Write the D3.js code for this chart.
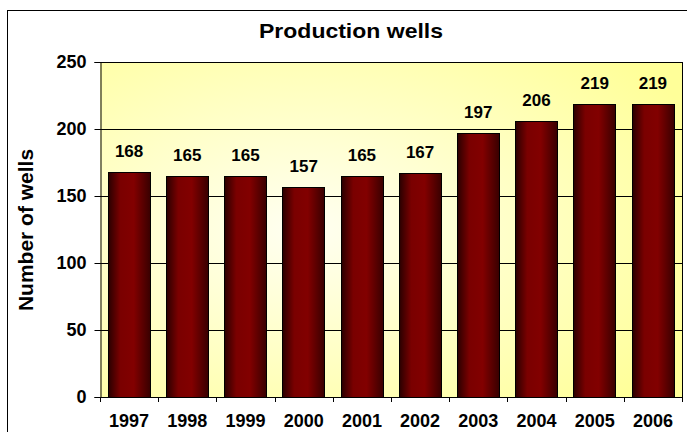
<!DOCTYPE html>
<html>
<head>
<meta charset="utf-8">
<script src="https://cdn.jsdelivr.net/npm/d3@7"></script>
<style>
  body { margin: 0; background: #fff; }
  svg { display: block; font-family: "Liberation Sans", Arial, sans-serif; }
</style>
</head>
<body>
<script>
const years = ['1997', '1998', '1999', '2000', '2001', '2002', '2003', '2004', '2005', '2006'];
const wells = [168, 165, 165, 157, 165, 167, 197, 206, 219, 219];
const yTicks = [0, 50, 100, 150, 200, 250];

const width = 687;
const height = 432;
const plot = { left: 100, right: 682, top: 62, bottom: 397 };

const svg = d3.select('body')
    .append('svg')
    .attr('width', width)
    .attr('height', height);

const defs = svg.append('defs');

const bg = defs.append('radialGradient')
    .attr('id', 'bg')
    .attr('cx', '0.35')
    .attr('cy', '0.5')
    .attr('r', '0.75');
bg.append('stop').attr('offset', '0').attr('stop-color', '#fffff2');
bg.append('stop').attr('offset', '1').attr('stop-color', '#ffff99');

const barGrad = defs.append('linearGradient')
    .attr('id', 'bar')
    .attr('x1', '0').attr('x2', '1')
    .attr('y1', '0').attr('y2', '0');
[['0', '#2a0000'], ['0.28', '#7a0000'], ['0.6', '#820000'], ['1', '#380000']]
    .forEach(([o, c]) => barGrad.append('stop').attr('offset', o).attr('stop-color', c));

// chart frame
svg.append('rect')
    .attr('x', 7.5)
    .attr('y', 10.5)
    .attr('width', 700)
    .attr('height', 440)
    .attr('fill', '#fff')
    .attr('stroke', '#000')
    .attr('stroke-width', 1);

const x = d3.scaleBand()
    .domain(years)
    .range([plot.left, plot.right])
    .paddingInner(0.27)
    .paddingOuter(0.135);

const y = d3.scaleLinear()
    .domain([0, 250])
    .range([plot.bottom, plot.top]);

svg.append('rect')
    .attr('x', plot.left)
    .attr('y', plot.top)
    .attr('width', plot.right - plot.left)
    .attr('height', plot.bottom - plot.top)
    .attr('fill', 'url(#bg)');

// gridlines
svg.append('g')
    .selectAll('line')
    .data(yTicks.slice(1))
    .enter()
    .append('line')
    .attr('x1', plot.left)
    .attr('x2', plot.right)
    .attr('y1', d => Math.round(y(d)) + 0.5)
    .attr('y2', d => Math.round(y(d)) + 0.5)
    .attr('stroke', '#000');

svg.append('line')
    .attr('x1', plot.right + 0.5).attr('x2', plot.right + 0.5)
    .attr('y1', plot.top).attr('y2', plot.bottom)
    .attr('stroke', '#000');

// bars
svg.append('g')
    .selectAll('rect')
    .data(years)
    .enter()
    .append('rect')
    .attr('x', d => Math.round(x(d)) + 0.5)
    .attr('y', (d, i) => Math.round(y(wells[i])) + 0.5)
    .attr('width', Math.round(x.bandwidth()))
    .attr('height', (d, i) => Math.round(y(0)) - Math.round(y(wells[i])))
    .attr('fill', 'url(#bar)')
    .attr('stroke', '#000')
    .attr('stroke-width', 1);

// value labels
svg.append('g')
    .selectAll('text')
    .data(years)
    .enter()
    .append('text')
    .attr('x', d => x(d) + x.bandwidth() / 2)
    .attr('y', (d, i) => y(wells[i]) - 15)
    .attr('text-anchor', 'middle')
    .attr('font-size', 17)
    .attr('font-weight', 'bold')
    .attr('fill', '#000')
    .text((d, i) => wells[i]);

// y axis
const yAxis = svg.append('g')
    .attr('transform', `translate(${plot.left + 0.5},0)`)
    .call(d3.axisLeft(y).tickValues(yTicks).tickSize(6).tickPadding(8));
yAxis.select('.domain').attr('stroke', '#000');
yAxis.selectAll('.tick line').attr('stroke', '#000');
yAxis.selectAll('.tick text')
    .attr('font-size', 18)
    .attr('font-weight', 'bold')
    .attr('font-family', '"Liberation Sans", Arial, sans-serif')
    .attr('fill', '#000');

// x axis line and ticks at category boundaries
svg.append('line')
    .attr('x1', plot.left).attr('x2', plot.right + 1)
    .attr('y1', plot.bottom + 0.5).attr('y2', plot.bottom + 0.5)
    .attr('stroke', '#000');

const step = x.step();
svg.append('g')
    .selectAll('line')
    .data(d3.range(years.length + 1))
    .enter()
    .append('line')
    .attr('x1', i => Math.round(plot.left + i * step) + 0.5)
    .attr('x2', i => Math.round(plot.left + i * step) + 0.5)
    .attr('y1', plot.bottom)
    .attr('y2', plot.bottom + 5)
    .attr('stroke', '#000');

svg.append('g')
    .selectAll('text')
    .data(years)
    .enter()
    .append('text')
    .attr('x', d => x(d) + x.bandwidth() / 2)
    .attr('y', 427)
    .attr('text-anchor', 'middle')
    .attr('font-size', 18)
    .attr('font-weight', 'bold')
    .text(d => d);

// titles
svg.append('text')
    .attr('x', 351)
    .attr('y', 38)
    .attr('text-anchor', 'middle')
    .attr('font-size', 21)
    .attr('font-weight', 'bold')
    .attr('textLength', 184)
    .attr('lengthAdjust', 'spacingAndGlyphs')
    .text('Production wells');

svg.append('text')
    .attr('transform', 'translate(33,230) rotate(-90)')
    .attr('text-anchor', 'middle')
    .attr('font-size', 21)
    .attr('font-weight', 'bold')
    .text('Number of wells');
</script>
</body>
</html>
